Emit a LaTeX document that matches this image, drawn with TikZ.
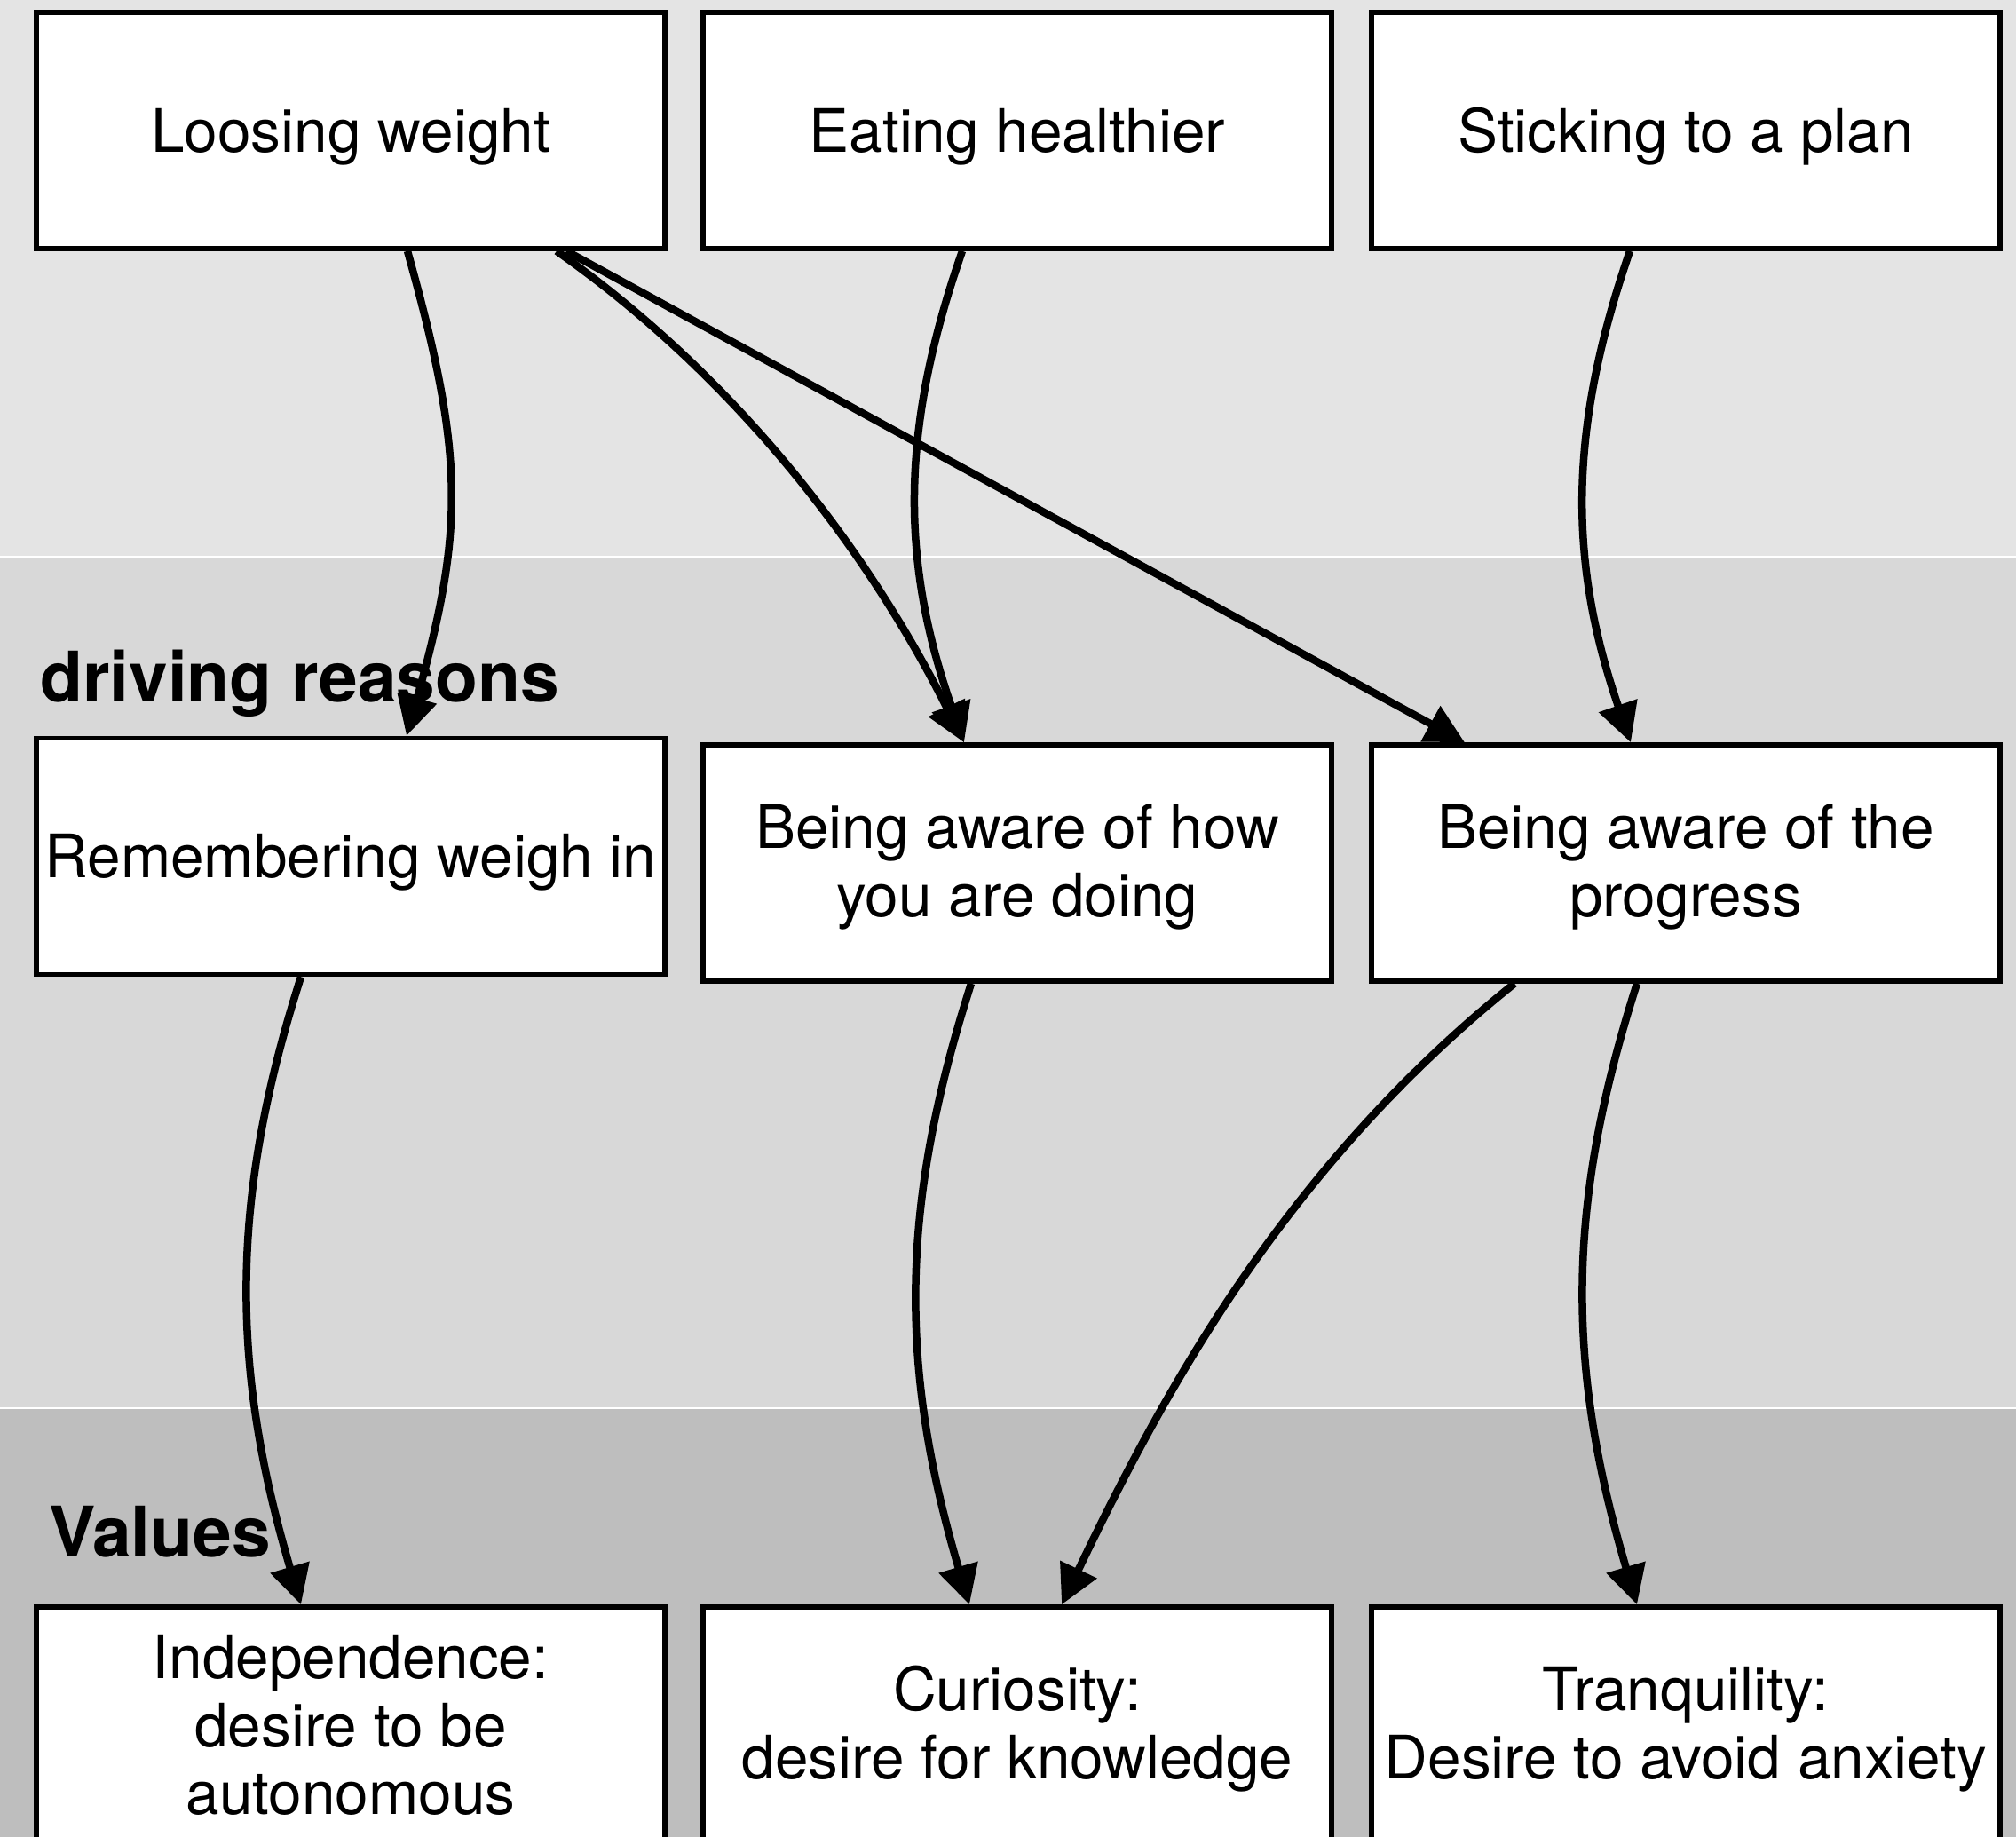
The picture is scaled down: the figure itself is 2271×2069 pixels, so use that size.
\documentclass[tikz,border=0pt]{standalone}
\usepackage{fontspec}
\setmainfont{TeX Gyre Heros}
\usetikzlibrary{arrows.meta}
\definecolor{bandA}{HTML}{E4E4E4}
\definecolor{bandB}{HTML}{D8D8D8}
\definecolor{bandC}{HTML}{BEBEBE}
\newcommand{\firstline}{\rule{0pt}{59pt}}
\begin{document}
\begin{tikzpicture}[x=1pt,y=-1pt,
  box/.style={draw=black, line width=5.5pt, fill=white, minimum width=708pt, minimum height=266pt, inner sep=0pt, font=\fontsize{67.5}{76.5}\selectfont},
  oneline/.style={text height=63pt, text depth=14.5pt},
  arr/.style={line width=8.5pt, -{Triangle[length=44pt,width=44pt]}},
  lane/.style={font=\bfseries\fontsize{78.5}{90}\selectfont, anchor=base west, inner sep=0pt}]
\useasboundingbox (0,0) rectangle (2271,2069);
% swimlane bands
\fill[bandA] (0,0) rectangle (2271,627);
\fill[bandB] (0,627) rectangle (2271,1586);
\fill[bandC] (0,1586) rectangle (2271,2069);
\draw[white, line width=2pt] (0,627) -- (2271,627);
\draw[white, line width=1.5pt] (0,1586) -- (2271,1586);
% lane labels
\node[lane] (dr) at (45,790) {driving reasons};
\node[lane] (val) at (55,1753) {Values};
% boxes
\node[box,oneline] (lw) at (395,147) {Loosing weight};
\node[box,oneline] (eh) at (1146,147) {Eating healthier};
\node[box,oneline] (sp) at (1899,147) {Sticking to a plan};
\node[box,oneline] (rw) at (395,964.5) {Remembering weigh in};
\node[box,align=center] (aw) at (1146,972) {\firstline Being aware of how\\you are doing};
\node[box,align=center] (ap) at (1899,972) {\firstline Being aware of the\\progress};
\node[box,align=center] (ind) at (395,1943) {Independence:\\desire to be\\autonomous};
\node[box,align=center] (cur) at (1146,1943) {\firstline Curiosity:\\desire for knowledge};
\node[box,align=center] (tr) at (1899,1943) {\firstline Tranquility:\\Desire to avoid anxiety};
% connectors
\draw[arr] ([xshift=64pt]lw.south) .. controls +(65,232) and +(65,-232) .. ([xshift=63pt]rw.north);
\draw[arr] ([xshift=232pt]lw.south) .. controls +(229,161) and +(-89,-179) .. ([xshift=-60pt]aw.north);
\draw[arr] ([xshift=243pt]lw.south) -- ([xshift=-249pt]ap.north);
\draw[arr] ([xshift=-62pt]eh.south) .. controls +(-71,203) and +(-71,-203) .. ([xshift=-60pt]aw.north);
\draw[arr] ([xshift=-63pt]sp.south) .. controls +(-70,203) and +(-70,-203) .. ([xshift=-62pt]ap.north);
\draw[arr] ([xshift=-56pt]rw.south) .. controls +(-80,250) and +(-80,-270) .. ([xshift=-56pt]ind.north);
\draw[arr] ([xshift=-52pt]aw.south) .. controls +(-80,250) and +(-80,-270) .. ([xshift=-54pt]cur.north);
\draw[arr] ([xshift=-193pt]ap.south) .. controls +(-265,212) and +(108,-225) .. ([xshift=50pt]cur.north);
\draw[arr] ([xshift=-55pt]ap.south) .. controls +(-80,250) and +(-80,-270) .. ([xshift=-55pt]tr.north);
\end{tikzpicture}
\end{document}
